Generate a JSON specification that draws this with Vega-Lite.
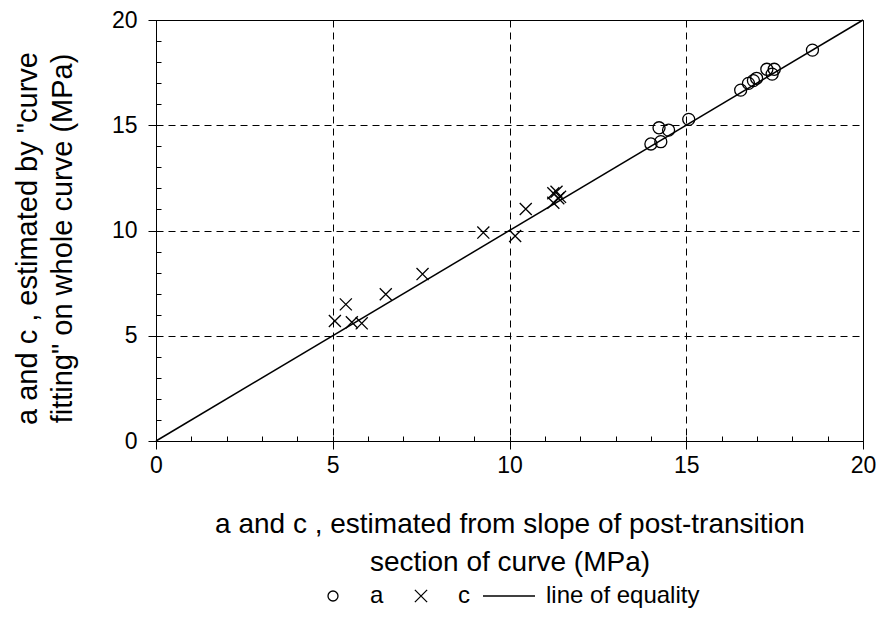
{
  "$schema": "https://vega.github.io/schema/vega-lite/v6.json",
  "width": 707,
  "height": 421,
  "autosize": {"type": "none"},
  "padding": {"left": 156, "top": 20, "right": 19, "bottom": 181},
  "background": "white",
  "config": {
    "font": "Liberation Sans",
    "view": {"stroke": "black", "strokeWidth": 1},
    "axis": {
      "labelFont": "Liberation Sans",
      "titleFont": "Liberation Sans",
      "labelColor": "black",
      "titleColor": "black",
      "domainColor": "black",
      "tickColor": "black",
      "titleFontWeight": "normal"
    },
    "legend": {"labelFont": "Liberation Sans", "labelColor": "black"}
  },
  "datasets": {
    "points": [
      {"series": "a", "x": 18.57, "y": 18.57},
      {"series": "a", "x": 17.28, "y": 17.66},
      {"series": "a", "x": 17.49, "y": 17.66},
      {"series": "a", "x": 17.43, "y": 17.43},
      {"series": "a", "x": 16.99, "y": 17.23},
      {"series": "a", "x": 16.90, "y": 17.12},
      {"series": "a", "x": 16.76, "y": 16.99},
      {"series": "a", "x": 16.54, "y": 16.67},
      {"series": "a", "x": 15.07, "y": 15.28},
      {"series": "a", "x": 14.23, "y": 14.88},
      {"series": "a", "x": 14.50, "y": 14.77},
      {"series": "a", "x": 14.28, "y": 14.22},
      {"series": "a", "x": 14.00, "y": 14.11},
      {"series": "c", "x": 5.06, "y": 5.70},
      {"series": "c", "x": 5.37, "y": 6.49},
      {"series": "c", "x": 5.54, "y": 5.64},
      {"series": "c", "x": 5.82, "y": 5.59},
      {"series": "c", "x": 6.50, "y": 6.97},
      {"series": "c", "x": 7.54, "y": 7.93},
      {"series": "c", "x": 9.26, "y": 9.90},
      {"series": "c", "x": 10.16, "y": 9.74},
      {"series": "c", "x": 10.46, "y": 11.02},
      {"series": "c", "x": 11.24, "y": 11.77},
      {"series": "c", "x": 11.33, "y": 11.84},
      {"series": "c", "x": 11.38, "y": 11.53},
      {"series": "c", "x": 11.24, "y": 11.32},
      {"series": "c", "x": 11.43, "y": 11.60}
    ],
    "equality": [
      {"x": 0, "y": 0},
      {"x": 20, "y": 20}
    ]
  },
  "resolve": {"axis": {"x": "independent", "y": "independent"}},
  "layer": [
    {
      "data": {"name": "equality"},
      "mark": {"type": "line", "color": "black", "strokeWidth": 1.5},
      "encoding": {
        "x": {
          "field": "x",
          "type": "quantitative",
          "scale": {"domain": [0, 20], "nice": false, "zero": false},
          "axis": {
            "orient": "bottom",
            "values": [0, 5, 10, 15, 20],
            "grid": true,
            "gridDash": [7, 5],
            "gridColor": "black",
            "gridWidth": 1,
            "gridOpacity": 1,
            "tickSize": 8,
            "labelFontSize": 23,
            "labelPadding": 5,
            "labelFlush": false,
            "title": ["a  and c , estimated from slope of post-transition", "section of curve (MPa)"],
            "titleFontSize": 28,
            "titleLineHeight": 38,
            "titlePadding": 33
          }
        },
        "y": {
          "field": "y",
          "type": "quantitative",
          "scale": {"domain": [0, 20], "nice": false, "zero": false},
          "axis": {
            "orient": "left",
            "values": [0, 5, 10, 15, 20],
            "grid": true,
            "gridDash": [7, 5],
            "gridColor": "black",
            "gridWidth": 1,
            "gridOpacity": 1,
            "tickSize": 8,
            "labelFontSize": 23,
            "labelPadding": 11,
            "labelFlush": false,
            "title": ["a   and c  , estimated by \"curve", "fitting\" on whole curve (MPa)"],
            "titleFontSize": 29,
            "titleLineHeight": 35,
            "titlePadding": 34,
            "titleY": 218
          }
        }
      }
    },
    {
      "data": {"name": "points"},
      "mark": {"type": "point", "filled": false, "stroke": "black", "strokeWidth": 1.3, "opacity": 1, "size": 145},
      "encoding": {
        "x": {
          "field": "x",
          "type": "quantitative",
          "axis": {"orient": "bottom", "values": [1,2,3,4,5,6,7,8,9,10,11,12,13,14,15,16,17,18,19], "tickSize": -5, "labels": false, "domain": false, "grid": false, "title": null}
        },
        "y": {
          "field": "y",
          "type": "quantitative",
          "axis": {"orient": "left", "values": [1,2,3,4,5,6,7,8,9,10,11,12,13,14,15,16,17,18,19], "tickSize": -5, "labels": false, "domain": false, "grid": false, "title": null}
        },
        "shape": {
          "field": "series",
          "type": "nominal",
          "scale": {"domain": ["a", "c", "line of equality"], "range": ["circle", "M-1,-1L1,1M-1,1L1,-1", "stroke"]},
          "legend": {
            "orient": "none",
            "legendX": 150,
            "legendY": 549,
            "padding": 0,
            "direction": "horizontal",
            "title": null,
            "labelFontSize": 24,
            "labelOffset": 10,
            "columnPadding": 10,
            "symbolStrokeColor": "black",
            "symbolStrokeWidth": 1.3,
            "symbolSize": {"expr": "datum.value === 'a' ? 100 : datum.value === 'c' ? 150 : 2704"}
          }
        }
      }
    }
  ]
}
